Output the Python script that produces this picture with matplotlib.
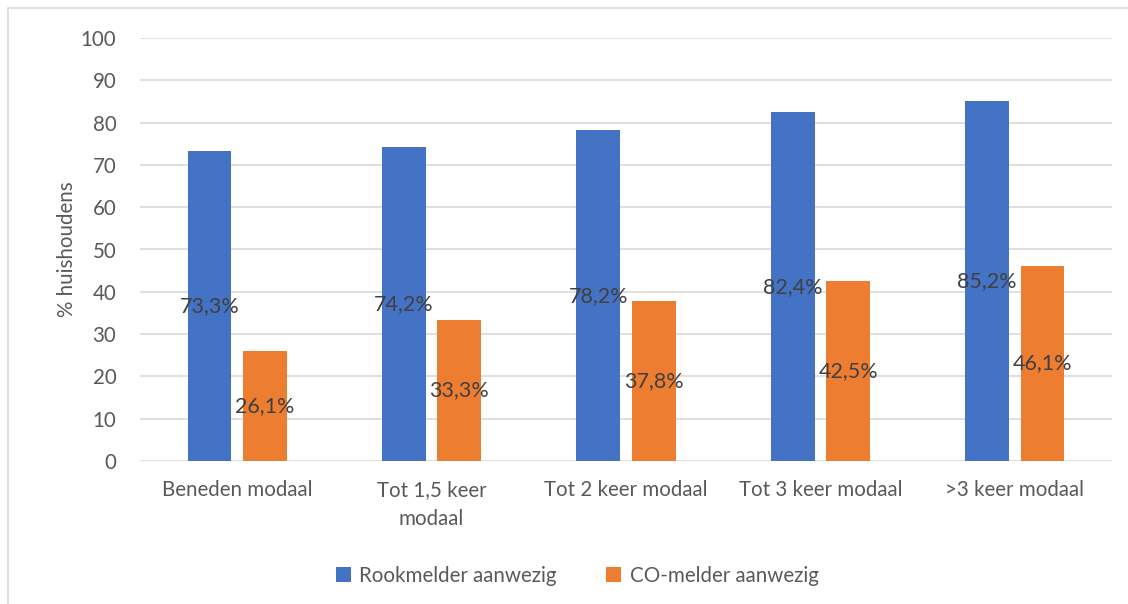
import matplotlib
matplotlib.use("Agg")
import matplotlib.pyplot as plt
import numpy as np
from matplotlib.patches import Rectangle

categories = ["Beneden modaal", "Tot 1,5 keer\nmodaal", "Tot 2 keer modaal", "Tot 3 keer modaal", ">3 keer modaal"]
rook = [73.3, 74.2, 78.2, 82.4, 85.2]
co = [26.1, 33.3, 37.8, 42.5, 46.1]
series_names = ["Rookmelder aanwezig", "CO-melder aanwezig"]
yticks = [0, 10, 20, 30, 40, 50, 60, 70, 80, 90, 100]

plt.rcParams['font.family'] = ['Lato', 'DejaVu Sans']
blue = "#4472C4"
orange = "#ED7D31"
tick_col = "#595959"
lab_col = "#404040"
fs = 14.8

fig = plt.figure(figsize=(11.28, 6.04), dpi=100)
fig.patches.append(Rectangle((8/1128, -0.01), 1.02, (604-8)/604 + 0.01, transform=fig.transFigure,
                             fill=False, edgecolor="#d9d9d9", linewidth=1.2, zorder=0))
ax = fig.add_axes([140/1128, (604-461)/604, (1112-140)/1128, (461-38)/604])

x = np.arange(len(categories))
w = 0.226
off = 0.1425
b1 = ax.bar(x - off, rook, w, color=blue, label=series_names[0], zorder=3)
b2 = ax.bar(x + off, co, w, color=orange, label=series_names[1], zorder=3)

for bars, vals in ((b1, rook), (b2, co)):
    for b, v in zip(bars, vals):
        ax.text(b.get_x() + b.get_width() / 2, v / 2, f"{v:.1f}%".replace(".", ","),
                ha="center", va="center", fontsize=15.5, color=lab_col, zorder=4)

ax.set_xlim(-0.5, len(categories) - 0.5)
ax.set_ylim(0, 100)
ax.set_yticks(yticks)
ax.set_xticks(x)
ax.set_xticklabels(categories, linespacing=1.55)
ax.tick_params(axis="both", length=0, labelsize=fs, colors=tick_col)
ax.tick_params(axis="y", pad=17)
ax.tick_params(axis="x", pad=14)
ax.grid(axis="y", color="#d9d9d9", linewidth=1.2, zorder=0)
for s in ax.spines.values():
    s.set_visible(False)
ax.set_ylabel("% huishoudens", fontsize=fs, color=tick_col, labelpad=3)

ax.legend(loc="center", bbox_to_anchor=(577/1128, (604-576)/604), bbox_transform=fig.transFigure,
          ncol=2, frameon=False, fontsize=fs, labelcolor=tick_col, handlelength=0.75, handleheight=0.75,
          columnspacing=2.4, handletextpad=0.4)

fig.savefig("out.png", dpi=100)
